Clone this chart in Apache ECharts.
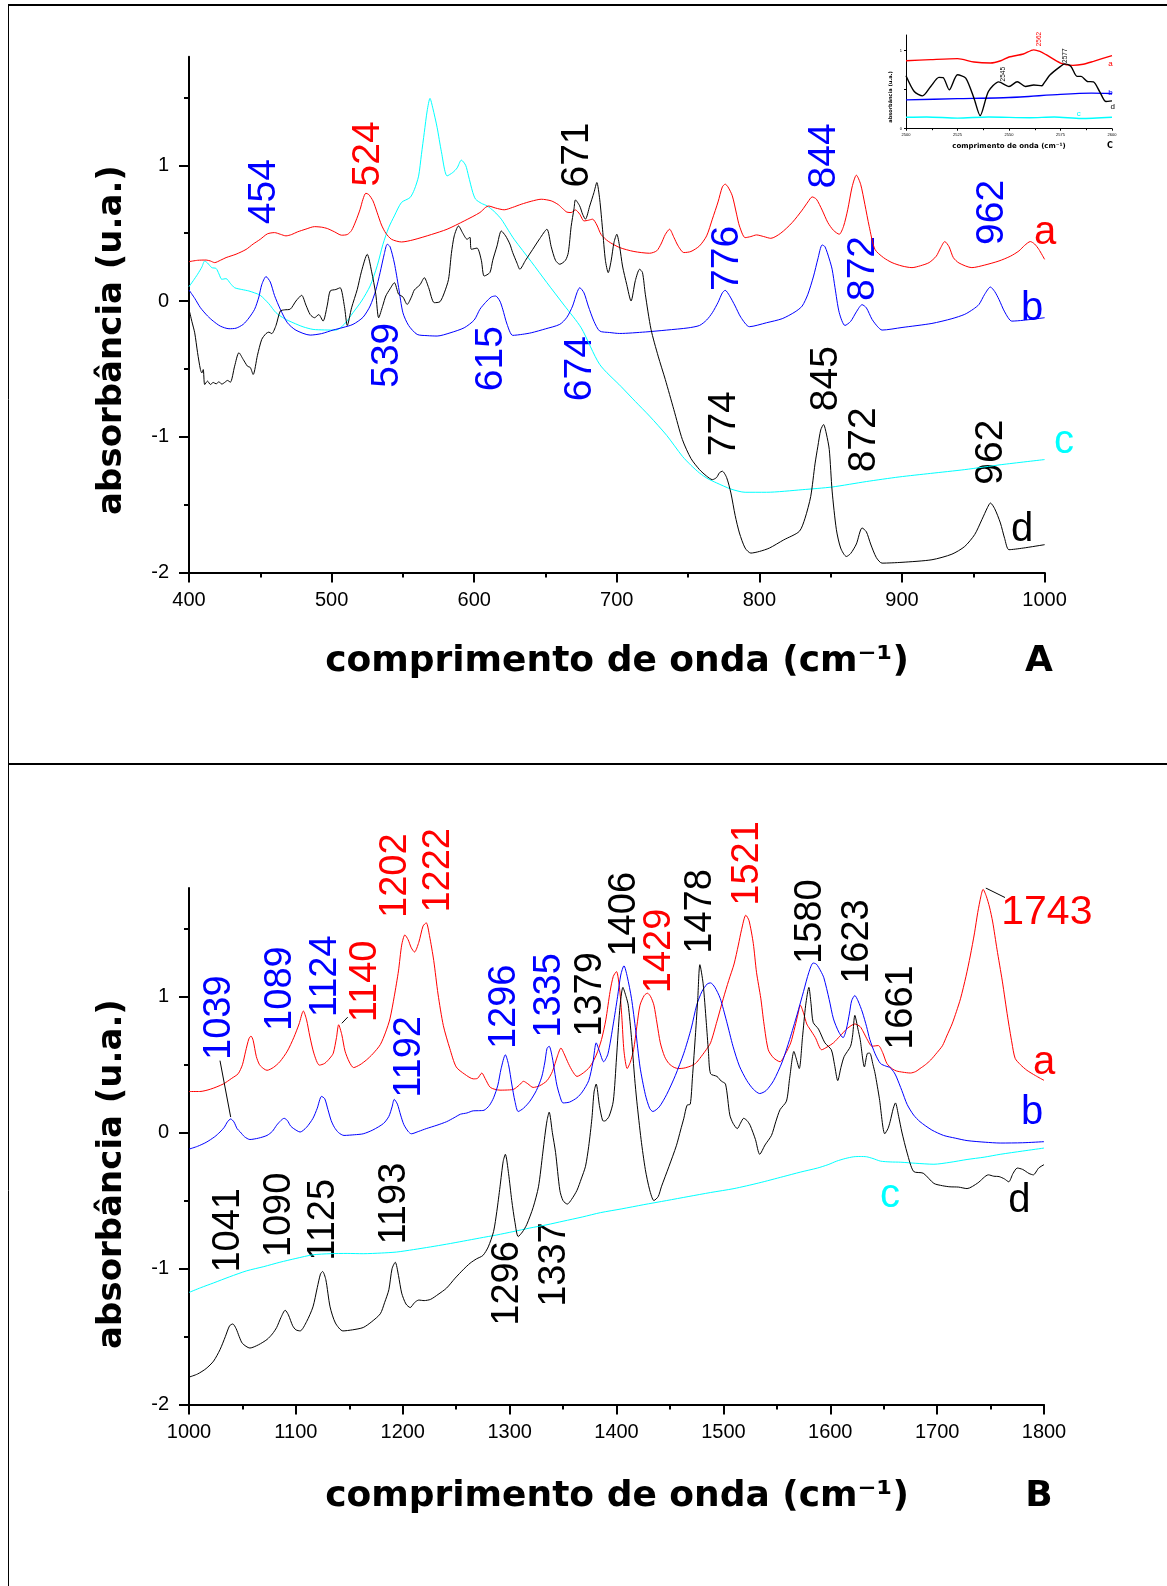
<!DOCTYPE html>
<html>
<head>
<meta charset="utf-8">
<script src="https://cdn.jsdelivr.net/npm/echarts@6/dist/echarts.min.js"></script>
<style>
  html, body { margin: 0; padding: 0; background: #fff; }
  #chart { width: 1167px; height: 1586px; }
</style>
</head>
<body>
<div id="chart"></div>
<script>
// ---------- Spectra, 400–1000 cm-1 (panel A) ----------
const specA_a = [[400,0.29],[406,0.30],[412,0.302],[415,0.295],[418,0.283],[422,0.30],[426,0.32],[433,0.345],[440,0.38],[445,0.42],[450,0.455],[455,0.495],[460,0.504],[464,0.492],[468,0.48],[472,0.49],[476,0.509],[482,0.53],[488,0.548],[493,0.544],[497,0.534],[502,0.51],[507,0.485],[511,0.49],[514,0.52],[517,0.59],[520,0.676],[522,0.75],[524,0.794],[526,0.785],[529,0.738],[532,0.65],[535,0.56],[538,0.50],[542,0.455],[549,0.435],[557,0.45],[570,0.49],[581,0.529],[593,0.59],[604,0.652],[608,0.69],[610,0.70],[615,0.685],[621,0.672],[627,0.69],[633,0.713],[640,0.735],[647,0.75],[654,0.738],[659,0.71],[662,0.681],[665,0.655],[668,0.652],[671,0.671],[674,0.64],[677,0.59],[680,0.595],[683,0.603],[686,0.56],[689,0.49],[694,0.44],[702,0.394],[712,0.365],[723,0.352],[728,0.37],[731,0.42],[734,0.49],[737,0.529],[740,0.47],[743,0.406],[747,0.357],[752,0.365],[758,0.406],[763,0.48],[767,0.603],[771,0.73],[774,0.84],[776,0.861],[778,0.84],[781,0.775],[784,0.64],[786,0.553],[790,0.467],[794,0.475],[798,0.487],[803,0.475],[808,0.462],[815,0.50],[823,0.578],[830,0.67],[834,0.73],[837,0.767],[840,0.75],[844,0.67],[848,0.578],[852,0.52],[856,0.492],[859,0.55],[862,0.676],[865,0.84],[868,0.927],[871,0.86],[874,0.71],[877,0.55],[881,0.381],[887,0.32],[893,0.283],[900,0.258],[907,0.246],[913,0.26],[919,0.283],[924,0.33],[927,0.39],[930,0.438],[933,0.40],[936,0.32],[940,0.28],[949,0.246],[958,0.265],[968,0.295],[976,0.33],[982,0.369],[986,0.41],[990,0.438],[993,0.42],[996,0.38],[1000,0.307]];

const specA_b = [[400,0.081],[404,0.02],[408,-0.049],[413,-0.11],[417,-0.148],[422,-0.185],[428,-0.204],[433,-0.2],[438,-0.172],[442,-0.125],[446,-0.061],[449,0.03],[451,0.12],[454,0.18],[457,0.14],[460,0.04],[464,-0.06],[469,-0.16],[475,-0.215],[485,-0.251],[493,-0.24],[501,-0.214],[508,-0.195],[515,-0.172],[522,-0.12],[527,-0.037],[531,0.08],[534,0.209],[537,0.35],[539,0.418],[541,0.40],[544,0.28],[547,0.10],[550,-0.086],[554,-0.18],[560,-0.246],[567,-0.255],[574,-0.258],[583,-0.235],[593,-0.197],[600,-0.14],[604,-0.061],[608,-0.01],[612,0.03],[615,0.037],[618,0.0],[620,-0.06],[623,-0.17],[627,-0.253],[634,-0.245],[640,-0.234],[650,-0.205],[660,-0.172],[665,-0.12],[669,-0.037],[672,0.06],[674,0.098],[677,0.06],[680,-0.037],[684,-0.15],[688,-0.221],[695,-0.232],[702,-0.239],[720,-0.228],[735,-0.214],[750,-0.198],[758,-0.18],[763,-0.14],[767,-0.086],[771,-0.01],[774,0.06],[776,0.079],[779,0.04],[783,-0.037],[787,-0.12],[793,-0.189],[805,-0.16],[816,-0.13],[825,-0.08],[830,-0.037],[834,0.05],[838,0.184],[841,0.31],[844,0.413],[846,0.40],[849,0.31],[851,0.234],[853,0.1],[856,-0.086],[860,-0.18],[864,-0.15],[868,-0.08],[872,-0.027],[875,-0.05],[879,-0.135],[883,-0.19],[886,-0.214],[900,-0.195],[921,-0.165],[935,-0.13],[944,-0.098],[950,-0.06],[954,-0.025],[958,0.05],[962,0.103],[965,0.07],[968,0.012],[972,-0.08],[977,-0.148],[985,-0.142],[1000,-0.123]];

const specA_c = [[400,0.106],[403,0.15],[406,0.197],[409,0.25],[411,0.295],[413,0.28],[416,0.246],[419,0.24],[421,0.20],[423,0.16],[426,0.165],[429,0.13],[432,0.098],[437,0.085],[442,0.074],[446,0.06],[450,0.042],[456,-0.02],[461,-0.086],[467,-0.13],[473,-0.16],[480,-0.19],[487,-0.209],[495,-0.213],[503,-0.214],[509,-0.17],[515,-0.086],[521,0.0],[527,0.111],[532,0.26],[536,0.418],[540,0.54],[544,0.627],[549,0.726],[555,0.762],[558,0.82],[561,0.92],[563,1.08],[565,1.242],[567,1.40],[569,1.493],[571,1.42],[574,1.279],[577,1.10],[581,0.922],[585,0.947],[588,0.98],[591,1.038],[594,1.0],[596,0.922],[599,0.80],[601,0.75],[605,0.72],[609,0.701],[614,0.66],[619,0.603],[624,0.52],[628,0.455],[640,0.29],[651,0.135],[663,-0.03],[675,-0.197],[688,-0.467],[703,-0.63],[713,-0.74],[723,-0.848],[735,-0.99],[746,-1.144],[752,-1.21],[758,-1.267],[764,-1.31],[770,-1.34],[780,-1.385],[790,-1.409],[805,-1.409],[830,-1.39],[851,-1.37],[875,-1.33],[898,-1.296],[920,-1.27],[944,-1.242],[970,-1.205],[1000,-1.168]];

const specA_d = [[400,-0.061],[402,-0.15],[404,-0.234],[406,-0.38],[408,-0.504],[409,-0.53],[410,-0.505],[411,-0.615],[413,-0.59],[415,-0.615],[417,-0.60],[419,-0.61],[421,-0.595],[423,-0.612],[425,-0.60],[427,-0.585],[429,-0.598],[432,-0.48],[435,-0.381],[438,-0.43],[441,-0.48],[443,-0.49],[445,-0.541],[448,-0.40],[451,-0.283],[454,-0.24],[456,-0.229],[458,-0.24],[461,-0.18],[464,-0.074],[467,-0.065],[471,-0.06],[475,0.0],[479,0.042],[482,-0.03],[485,-0.1],[488,-0.123],[491,-0.10],[494,-0.148],[497,-0.03],[499,0.074],[503,0.085],[506,0.098],[509,-0.04],[511,-0.18],[514,-0.05],[518,0.086],[521,0.22],[525,0.344],[528,0.22],[531,0.05],[533,-0.123],[536,-0.03],[538,0.037],[541,0.09],[544,0.135],[547,0.05],[550,0.03],[553,-0.025],[556,0.03],[558,0.081],[562,0.12],[565,0.172],[568,0.10],[572,-0.012],[576,-0.005],[579,0.06],[582,0.16],[584,0.35],[586,0.48],[589,0.553],[592,0.50],[595,0.455],[597,0.47],[598,0.381],[602,0.39],[605,0.30],[607,0.184],[611,0.21],[613,0.30],[616,0.406],[619,0.516],[622,0.48],[625,0.42],[627,0.357],[630,0.28],[632,0.234],[636,0.30],[641,0.38],[646,0.46],[651,0.529],[654,0.40],[657,0.30],[660,0.271],[664,0.30],[666,0.357],[668,0.55],[670,0.68],[671,0.745],[674,0.70],[676,0.64],[678,0.603],[681,0.70],[684,0.80],[686,0.873],[688,0.75],[690,0.529],[692,0.30],[694,0.209],[696,0.295],[698,0.43],[700,0.492],[702,0.40],[704,0.258],[707,0.12],[710,0.0],[713,0.15],[716,0.234],[718,0.21],[720,0.05],[724,-0.209],[729,-0.406],[734,-0.578],[740,-0.80],[746,-1.021],[752,-1.16],[758,-1.242],[763,-1.29],[767,-1.316],[770,-1.30],[772,-1.265],[774,-1.254],[777,-1.30],[780,-1.414],[783,-1.58],[786,-1.709],[790,-1.82],[794,-1.857],[800,-1.845],[807,-1.820],[817,-1.76],[828,-1.697],[832,-1.60],[836,-1.439],[839,-1.20],[841,-1.07],[843,-0.95],[845,-0.910],[847,-0.98],[849,-1.094],[851,-1.40],[854,-1.685],[857,-1.82],[861,-1.882],[864,-1.86],[868,-1.79],[872,-1.672],[875,-1.70],[878,-1.79],[882,-1.89],[886,-1.931],[900,-1.925],[921,-1.906],[935,-1.865],[944,-1.808],[951,-1.72],[956,-1.611],[960,-1.52],[962,-1.488],[965,-1.53],[969,-1.635],[972,-1.75],[975,-1.832],[985,-1.82],[1000,-1.795]];

// ---------- Spectra, 1000–1800 cm-1 (panel B) ----------
const specB_a = [[1000,0.303],[1010,0.303],[1020,0.32],[1032,0.358],[1040,0.40],[1046,0.434],[1050,0.50],[1053,0.60],[1056,0.69],[1058,0.711],[1060,0.68],[1063,0.56],[1066,0.50],[1070,0.47],[1073,0.459],[1079,0.48],[1085,0.522],[1092,0.60],[1098,0.699],[1103,0.80],[1107,0.895],[1110,0.83],[1113,0.711],[1117,0.58],[1122,0.497],[1127,0.51],[1132,0.55],[1135,0.585],[1138,0.70],[1140,0.794],[1143,0.72],[1146,0.60],[1150,0.52],[1154,0.479],[1160,0.50],[1166,0.535],[1172,0.58],[1179,0.648],[1184,0.74],[1188,0.837],[1192,1.0],[1196,1.19],[1199,1.38],[1202,1.455],[1205,1.42],[1208,1.36],[1211,1.329],[1215,1.40],[1219,1.52],[1222,1.544],[1225,1.45],[1229,1.266],[1233,1.02],[1238,0.787],[1244,0.62],[1250,0.484],[1258,0.43],[1266,0.396],[1270,0.40],[1274,0.439],[1277,0.40],[1282,0.333],[1291,0.313],[1300,0.315],[1304,0.32],[1309,0.35],[1313,0.378],[1317,0.36],[1322,0.333],[1328,0.345],[1335,0.383],[1340,0.45],[1345,0.57],[1348,0.623],[1351,0.58],[1355,0.509],[1359,0.45],[1363,0.414],[1369,0.44],[1375,0.484],[1381,0.57],[1386,0.686],[1390,0.83],[1394,1.039],[1397,1.15],[1400,1.185],[1403,1.05],[1405,0.85],[1407,0.60],[1410,0.472],[1413,0.52],[1416,0.61],[1419,0.78],[1422,0.938],[1426,1.01],[1429,1.026],[1432,1.0],[1435,0.938],[1438,0.80],[1441,0.661],[1445,0.56],[1449,0.509],[1454,0.48],[1458,0.472],[1463,0.475],[1469,0.489],[1474,0.51],[1478,0.547],[1483,0.60],[1488,0.661],[1494,0.82],[1500,0.989],[1505,1.12],[1510,1.241],[1514,1.38],[1517,1.493],[1521,1.60],[1524,1.56],[1528,1.392],[1531,1.18],[1535,0.989],[1538,0.80],[1542,0.610],[1547,0.55],[1553,0.522],[1558,0.58],[1563,0.661],[1567,0.78],[1570,0.88],[1572,0.938],[1575,0.88],[1578,0.80],[1581,0.762],[1586,0.70],[1592,0.610],[1597,0.63],[1603,0.661],[1609,0.71],[1616,0.767],[1623,0.800],[1628,0.78],[1631,0.741],[1635,0.68],[1639,0.636],[1645,0.641],[1649,0.59],[1653,0.509],[1658,0.47],[1662,0.454],[1668,0.445],[1675,0.439],[1680,0.45],[1684,0.472],[1689,0.50],[1694,0.535],[1700,0.59],[1705,0.64],[1709,0.711],[1714,0.80],[1718,0.89],[1722,0.989],[1727,1.15],[1731,1.30],[1735,1.47],[1738,1.62],[1741,1.74],[1743,1.79],[1746,1.74],[1749,1.66],[1752,1.55],[1756,1.35],[1761,1.115],[1766,0.85],[1770,0.66],[1773,0.547],[1778,0.50],[1784,0.459],[1792,0.42],[1800,0.385]];

const specB_b = [[1000,-0.121],[1008,-0.10],[1016,-0.071],[1024,-0.03],[1029,0.005],[1033,0.04],[1036,0.08],[1039,0.101],[1042,0.08],[1045,0.03],[1048,0.005],[1052,-0.03],[1057,-0.050],[1065,-0.04],[1073,-0.020],[1078,0.01],[1082,0.055],[1086,0.09],[1089,0.106],[1092,0.09],[1095,0.05],[1098,0.030],[1104,0.005],[1110,0.04],[1116,0.106],[1120,0.18],[1124,0.267],[1127,0.25],[1130,0.17],[1133,0.09],[1136,0.04],[1140,0.0],[1145,-0.020],[1155,-0.015],[1163,-0.008],[1172,0.02],[1182,0.068],[1187,0.12],[1190,0.19],[1192,0.245],[1195,0.21],[1198,0.13],[1201,0.06],[1205,0.01],[1208,-0.008],[1215,0.01],[1222,0.030],[1232,0.055],[1241,0.081],[1248,0.11],[1254,0.136],[1260,0.145],[1266,0.161],[1271,0.162],[1276,0.165],[1281,0.2],[1285,0.257],[1289,0.35],[1292,0.47],[1296,0.573],[1299,0.50],[1302,0.358],[1305,0.23],[1308,0.156],[1313,0.18],[1319,0.232],[1325,0.31],[1330,0.409],[1333,0.52],[1335,0.62],[1337,0.636],[1340,0.55],[1344,0.358],[1347,0.27],[1350,0.219],[1356,0.225],[1363,0.257],[1368,0.30],[1374,0.383],[1378,0.52],[1381,0.661],[1384,0.60],[1388,0.522],[1392,0.58],[1397,0.80],[1401,1.0],[1404,1.16],[1407,1.228],[1410,1.15],[1414,0.989],[1418,0.75],[1422,0.484],[1427,0.28],[1431,0.18],[1434,0.156],[1440,0.19],[1447,0.282],[1455,0.42],[1463,0.585],[1470,0.77],[1475,0.938],[1480,1.04],[1485,1.095],[1488,1.102],[1492,1.07],[1497,0.989],[1503,0.82],[1509,0.636],[1515,0.49],[1522,0.383],[1528,0.32],[1534,0.288],[1540,0.31],[1547,0.383],[1555,0.52],[1562,0.686],[1569,0.87],[1575,1.039],[1580,1.18],[1584,1.248],[1587,1.24],[1591,1.19],[1594,1.14],[1599,0.98],[1603,0.837],[1608,0.74],[1612,0.699],[1615,0.76],[1618,0.88],[1620,0.97],[1623,1.009],[1626,0.97],[1630,0.888],[1634,0.78],[1637,0.686],[1642,0.58],[1647,0.509],[1652,0.49],[1656,0.479],[1660,0.44],[1662,0.409],[1667,0.31],[1672,0.207],[1678,0.13],[1684,0.081],[1695,0.02],[1706,-0.020],[1717,-0.04],[1728,-0.058],[1745,-0.07],[1759,-0.076],[1780,-0.074],[1800,-0.066]];

const specB_c = [[1000,-1.175],[1011,-1.14],[1023,-1.105],[1038,-1.06],[1054,-1.016],[1070,-0.985],[1085,-0.953],[1100,-0.925],[1116,-0.898],[1132,-0.89],[1148,-0.888],[1163,-0.89],[1180,-0.885],[1194,-0.878],[1210,-0.86],[1226,-0.840],[1241,-0.82],[1257,-0.797],[1272,-0.775],[1288,-0.752],[1303,-0.728],[1319,-0.701],[1335,-0.677],[1350,-0.651],[1368,-0.62],[1385,-0.588],[1405,-0.56],[1425,-0.53],[1447,-0.499],[1467,-0.47],[1488,-0.44],[1510,-0.411],[1533,-0.37],[1556,-0.323],[1572,-0.29],[1588,-0.26],[1598,-0.235],[1606,-0.209],[1614,-0.19],[1622,-0.177],[1628,-0.175],[1634,-0.177],[1640,-0.19],[1647,-0.209],[1656,-0.215],[1666,-0.217],[1680,-0.225],[1697,-0.232],[1712,-0.218],[1728,-0.197],[1744,-0.18],[1759,-0.159],[1780,-0.135],[1800,-0.113]];

const specB_d = [[1000,-1.798],[1008,-1.775],[1016,-1.735],[1023,-1.68],[1029,-1.596],[1034,-1.50],[1038,-1.42],[1041,-1.407],[1044,-1.44],[1047,-1.50],[1050,-1.55],[1057,-1.584],[1065,-1.56],[1073,-1.521],[1078,-1.48],[1082,-1.433],[1086,-1.36],[1090,-1.306],[1093,-1.34],[1097,-1.420],[1100,-1.45],[1104,-1.458],[1110,-1.39],[1116,-1.281],[1120,-1.14],[1123,-1.04],[1125,-1.021],[1128,-1.08],[1132,-1.281],[1137,-1.40],[1144,-1.458],[1153,-1.45],[1163,-1.433],[1171,-1.39],[1179,-1.332],[1183,-1.25],[1187,-1.155],[1190,-1.0],[1193,-0.953],[1196,-1.05],[1199,-1.180],[1203,-1.26],[1207,-1.286],[1211,-1.25],[1215,-1.231],[1220,-1.235],[1226,-1.226],[1233,-1.19],[1241,-1.143],[1249,-1.07],[1257,-1.004],[1263,-0.96],[1269,-0.928],[1275,-0.903],[1280,-0.84],[1285,-0.726],[1288,-0.58],[1291,-0.398],[1294,-0.21],[1296,-0.159],[1299,-0.30],[1302,-0.499],[1305,-0.66],[1308,-0.764],[1312,-0.73],[1316,-0.676],[1322,-0.55],[1327,-0.398],[1331,-0.15],[1333,-0.020],[1335,0.09],[1337,0.151],[1340,0.0],[1343,-0.146],[1347,-0.424],[1350,-0.50],[1354,-0.525],[1358,-0.49],[1363,-0.424],[1367,-0.34],[1371,-0.247],[1374,-0.10],[1377,0.106],[1379,0.30],[1381,0.358],[1384,0.20],[1387,0.09],[1389,0.086],[1393,0.12],[1397,0.232],[1400,0.55],[1403,0.900],[1406,1.069],[1409,1.0],[1411,0.938],[1414,0.70],[1417,0.40],[1419,0.232],[1423,-0.05],[1427,-0.272],[1431,-0.42],[1435,-0.499],[1439,-0.47],[1442,-0.398],[1449,-0.25],[1456,-0.096],[1460,0.02],[1463,0.106],[1466,0.202],[1469,0.21],[1471,0.40],[1474,0.736],[1476,0.98],[1478,1.236],[1481,1.10],[1484,0.812],[1486,0.60],[1488,0.434],[1494,0.414],[1498,0.38],[1502,0.358],[1506,0.131],[1509,0.07],[1513,0.030],[1516,0.07],[1519,0.106],[1522,0.09],[1525,0.055],[1530,-0.05],[1534,-0.159],[1539,-0.09],[1545,-0.020],[1549,0.08],[1553,0.169],[1559,0.232],[1562,0.40],[1566,0.598],[1568,0.55],[1571,0.472],[1574,0.70],[1577,0.938],[1580,1.069],[1582,0.95],[1584,0.812],[1589,0.762],[1595,0.661],[1601,0.610],[1604,0.50],[1607,0.383],[1610,0.48],[1613,0.560],[1619,0.636],[1621,0.72],[1623,0.863],[1626,0.76],[1628,0.686],[1632,0.484],[1635,0.585],[1637,0.585],[1640,0.50],[1642,0.434],[1646,0.25],[1651,-0.008],[1654,0.03],[1656,0.081],[1659,0.18],[1661,0.219],[1664,0.12],[1667,0.005],[1672,-0.15],[1678,-0.285],[1687,-0.298],[1697,-0.373],[1705,-0.39],[1712,-0.398],[1720,-0.40],[1728,-0.411],[1738,-0.37],[1748,-0.310],[1753,-0.32],[1758,-0.323],[1763,-0.34],[1767,-0.361],[1771,-0.30],[1775,-0.260],[1780,-0.27],[1786,-0.30],[1790,-0.310],[1795,-0.26],[1800,-0.235]];

// ---------- Inset, 2500–2600 cm-1 (panel C) ----------
const specC_a = [[2500,0.871],[2512,0.885],[2525,0.897],[2533,0.854],[2541,0.841],[2546,0.87],[2550,0.918],[2557,0.957],[2562,1.01],[2565,0.99],[2568,0.948],[2575,0.841],[2581,0.811],[2586,0.825],[2591,0.863],[2600,0.936]];
const specC_b = [[2500,0.369],[2525,0.385],[2550,0.40],[2575,0.44],[2590,0.455],[2600,0.45]];
const specC_c = [[2500,0.146],[2510,0.15],[2525,0.135],[2540,0.15],[2560,0.14],[2572,0.15],[2585,0.13],[2600,0.146]];
const specC_d = [[2500,0.678],[2504,0.476],[2508,0.421],[2512,0.541],[2516,0.657],[2518,0.655],[2521,0.498],[2525,0.691],[2529,0.648],[2533,0.39],[2536,0.167],[2540,0.476],[2545,0.60],[2550,0.541],[2554,0.601],[2558,0.541],[2562,0.56],[2566,0.55],[2567,0.584],[2570,0.691],[2575,0.798],[2577,0.83],[2580,0.80],[2583,0.67],[2585,0.67],[2588,0.605],[2591,0.60],[2594,0.476],[2597,0.348],[2600,0.356]];

// ---------- Band assignments: [wavenumber, absorbance anchor, text] ----------
const bandsA_b = [[452.6,0.566,'454'],[538.9,-0.639,'539'],[612,-0.664,'615'],[674.7,-0.738,'674'],[777.4,0.074,'776'],[845.8,0.829,'844'],[873.1,0.0,'872'],[963.4,0.413,'962']];
const bandsA_a = [[526,0.844,'524']];
const bandsA_d = [[672.4,0.836,'671'],[775.6,-1.144,'774'],[846.9,-0.812,'845'],[873.3,-1.262,'872'],[962.7,-1.353,'962']];

const bandsB_b = [[1029,0.535,'1039'],[1085.2,0.749,'1089'],[1127.3,0.85,'1124'],[1206.2,0.257,'1192'],[1294.8,0.615,'1296'],[1337.3,0.699,'1335']];
const bandsB_a = [[1164.7,0.812,'1140'],[1192.8,1.58,'1202'],[1233.4,1.619,'1222'],[1440.2,1.026,'1429'],[1522.8,1.67,'1521']];
const bandsB_d = [[1036.8,-1.029,'1041'],[1084.6,-0.916,'1090'],[1125.7,-0.941,'1125'],[1192.5,-0.822,'1193'],[1298,-1.42,'1296'],[1341.6,-1.281,'1337'],[1376,0.706,'1379'],[1407.2,1.296,'1406'],[1478.9,1.317,'1478'],[1581.9,1.241,'1580'],[1625.6,1.095,'1623'],[1667.1,0.61,'1661']];
const bandsB_aFlat = [[1760,1.617,'1743']];
const leadersB = [[[1029,0.53],[1039,0.115]],[[1143,0.805],[1148.5,0.85]],[[1745.5,1.80],[1763.5,1.73]]];

const bandsC_a = [[2564.5,1.055,'2562']];
const bandsC_d = [[2547,0.605,'2545'],[2577.4,0.842,'2577']];

// ---------- Curve tags ----------
const tagsA = [[1000.3,0.505,'a'],[991.3,-0.055,'b'],[1013.6,-1.04,'c'],[984.2,-1.685,'d']];
const tagsB = [[1800.2,0.51,'a'],[1789,0.145,'b'],[1656,-0.465,'c'],[1777,-0.505,'d']];
const tagsC = [[2599.2,0.829,'a'],[2599.2,0.463,'b'],[2583.9,0.189,'c'],[2600.3,0.275,'d']];

const yMajor = [-2, -1, 0, 1];
const yMinor = [-1.5, -0.5, 0.5, 1.5];

const RED = '#ff0000', BLUE = '#0000ff', CYAN = '#00ffff', BLACK = '#000000';
const TAG_COLORS = [RED, BLUE, CYAN, BLACK];
const SANS = '"Liberation Sans", Arial, sans-serif';
const plain = v => String(v);

function curve(data, color, xi, yi, width) {
  return {
    type: 'line', data: data, xAxisIndex: xi, yAxisIndex: yi,
    symbol: 'none', smooth: 0.25, silent: true, animation: false,
    lineStyle: { color: color, width: width }, itemStyle: { color: color }
  };
}

function textMarks(rows, colors, size, xi, yi, rotated, align) {
  return {
    type: 'custom', xAxisIndex: xi, yAxisIndex: yi, silent: true, animation: false, clip: false,
    data: rows.map(r => [r[0], r[1]]),
    renderItem: function (params, api) {
      const p = api.coord([api.value(0), api.value(1)]);
      const r = rows[params.dataIndex];
      const color = Array.isArray(colors) ? colors[params.dataIndex] : colors;
      return {
        type: 'text', x: p[0], y: p[1], rotation: rotated ? Math.PI / 2 : 0,
        style: {
          text: r[2], fill: color, font: size + 'px ' + SANS,
          align: rotated ? 'left' : (align || 'center'), verticalAlign: 'middle'
        }
      };
    }
  };
}

function leaders(segs, xi, yi) {
  return segs.map(s => ({
    type: 'line', data: s, xAxisIndex: xi, yAxisIndex: yi, symbol: 'none',
    silent: true, animation: false, lineStyle: { color: BLACK, width: 1 }
  }));
}

function mainX(gi, min, max) {
  return {
    type: 'value', gridIndex: gi, min: min, max: max, interval: 100,
    axisLine: { onZero: false, lineStyle: { color: BLACK, width: 2 } },
    axisTick: { length: 10, lineStyle: { color: BLACK, width: 2 } },
    minorTick: { show: true, splitNumber: 2, length: 5, lineStyle: { color: BLACK, width: 2 } },
    axisLabel: { color: BLACK, fontSize: 20, fontFamily: SANS, margin: 18, formatter: plain },
    splitLine: { show: false }
  };
}
function mainY(gi) {
  return {
    type: 'value', gridIndex: gi, min: -2, max: 1.8,
    axisLine: { show: true, onZero: false, lineStyle: { color: BLACK, width: 2 } },
    axisTick: { show: true, length: 10, customValues: yMajor, lineStyle: { color: BLACK, width: 2 } },
    axisLabel: { color: BLACK, fontSize: 20, fontFamily: SANS, margin: 20, customValues: yMajor, formatter: plain },
    splitLine: { show: false }
  };
}
function minorY(gi) {
  return {
    type: 'value', gridIndex: gi, min: -2, max: 1.8, position: 'left',
    axisLine: { show: false, onZero: false },
    axisTick: { show: true, length: 5, customValues: yMinor, lineStyle: { color: BLACK, width: 2 } },
    axisLabel: { show: false, customValues: yMinor },
    splitLine: { show: false }
  };
}

const chart = echarts.init(document.getElementById('chart'), null, { renderer: 'canvas', width: 1167, height: 1586 });

const xTitle = 'comprimento de onda (cm\u207B\u00B9)';
const yTitle = 'absorbância (u.a.)';
const BOLD = '"DejaVu Sans", sans-serif';

chart.setOption({
  animation: false,
  backgroundColor: '#ffffff',
  grid: [
    { left: 189, top: 56.7, width: 855.6, height: 515.8 },
    { left: 189, top: 888, width: 855, height: 516.6 },
    { left: 906, top: 35, width: 206, height: 93.7 }
  ],
  xAxis: [
    mainX(0, 400, 1000),
    mainX(1, 1000, 1800),
    {
      type: 'value', gridIndex: 2, min: 2500, max: 2600, interval: 25,
      axisLine: { onZero: false, lineStyle: { color: BLACK, width: 1 } },
      axisTick: { length: 2, lineStyle: { color: BLACK, width: 1 } },
      minorTick: { show: true, splitNumber: 2, length: 1.5, lineStyle: { color: BLACK, width: 1 } },
      axisLabel: { color: BLACK, fontSize: 4, fontFamily: SANS, margin: 4, formatter: plain },
      splitLine: { show: false }
    }
  ],
  yAxis: [
    mainY(0), minorY(0), mainY(1), minorY(1),
    {
      type: 'value', gridIndex: 2, min: 0, max: 1.2,
      axisLine: { show: true, onZero: false, lineStyle: { color: BLACK, width: 1 } },
      axisTick: { show: true, length: 2, customValues: [0, 0.5, 1], lineStyle: { color: BLACK, width: 1 } },
      axisLabel: { color: BLACK, fontSize: 4, fontFamily: SANS, margin: 4, customValues: [0, 1], formatter: plain },
      splitLine: { show: false }
    }
  ],
  series: [
    curve(specA_c, CYAN, 0, 0, 1),
    curve(specA_a, RED, 0, 0, 1),
    curve(specA_b, BLUE, 0, 0, 1),
    curve(specA_d, BLACK, 0, 0, 1),
    curve(specB_c, CYAN, 1, 2, 1),
    curve(specB_a, RED, 1, 2, 1),
    curve(specB_b, BLUE, 1, 2, 1),
    curve(specB_d, BLACK, 1, 2, 1),
    curve(specC_c, CYAN, 2, 4, 1.4),
    curve(specC_a, RED, 2, 4, 1.4),
    curve(specC_b, BLUE, 2, 4, 1.4),
    curve(specC_d, BLACK, 2, 4, 1.4),
    ...leaders(leadersB, 1, 2),
    textMarks(bandsA_b, BLUE, 39, 0, 0, true),
    textMarks(bandsA_a, RED, 39, 0, 0, true),
    textMarks(bandsA_d, BLACK, 39, 0, 0, true),
    textMarks(tagsA, TAG_COLORS, 40, 0, 0, false),
    textMarks(bandsB_b, BLUE, 38, 1, 2, true),
    textMarks(bandsB_a, RED, 38, 1, 2, true),
    textMarks(bandsB_d, BLACK, 38, 1, 2, true),
    textMarks(bandsB_aFlat, RED, 41, 1, 2, false, 'left'),
    textMarks(tagsB, TAG_COLORS, 40, 1, 2, false),
    textMarks(bandsC_a, RED, 6.5, 2, 4, true),
    textMarks(bandsC_d, BLACK, 6.5, 2, 4, true),
    textMarks(tagsC, TAG_COLORS, 8, 2, 4, false)
  ],
  graphic: [
    // page frame
    { type: 'line', shape: { x1: 8, y1: 5, x2: 1167, y2: 5 }, style: { stroke: BLACK, lineWidth: 2 }, silent: true },
    { type: 'line', shape: { x1: 8.5, y1: 4, x2: 8.5, y2: 1586 }, style: { stroke: BLACK, lineWidth: 1 }, silent: true },
    { type: 'line', shape: { x1: 8, y1: 764, x2: 1167, y2: 764 }, style: { stroke: BLACK, lineWidth: 2 }, silent: true },
    // axis titles, panel A
    { type: 'text', x: 112, y: 340, rotation: Math.PI / 2, silent: true,
      style: { text: yTitle, font: 'bold 34px ' + BOLD, fill: BLACK, align: 'center', verticalAlign: 'middle' } },
    { type: 'text', x: 617, y: 662, silent: true,
      style: { text: xTitle, font: 'bold 36px ' + BOLD, fill: BLACK, align: 'center', verticalAlign: 'middle' } },
    { type: 'text', x: 1039, y: 662, silent: true,
      style: { text: 'A', font: 'bold 36px ' + BOLD, fill: BLACK, align: 'center', verticalAlign: 'middle' } },
    // axis titles, panel B
    { type: 'text', x: 112, y: 1174, rotation: Math.PI / 2, silent: true,
      style: { text: yTitle, font: 'bold 34px ' + BOLD, fill: BLACK, align: 'center', verticalAlign: 'middle' } },
    { type: 'text', x: 617, y: 1497, silent: true,
      style: { text: xTitle, font: 'bold 36px ' + BOLD, fill: BLACK, align: 'center', verticalAlign: 'middle' } },
    { type: 'text', x: 1039, y: 1497, silent: true,
      style: { text: 'B', font: 'bold 36px ' + BOLD, fill: BLACK, align: 'center', verticalAlign: 'middle' } },
    // inset titles
    { type: 'text', x: 891, y: 97, rotation: Math.PI / 2, silent: true,
      style: { text: yTitle, font: 'bold 5px ' + BOLD, fill: BLACK, align: 'center', verticalAlign: 'middle' } },
    { type: 'text', x: 1009, y: 146, silent: true,
      style: { text: xTitle, font: 'bold 7px ' + BOLD, fill: BLACK, align: 'center', verticalAlign: 'middle' } },
    { type: 'text', x: 1110, y: 146, silent: true,
      style: { text: 'C', font: 'bold 8px ' + BOLD, fill: BLACK, align: 'center', verticalAlign: 'middle' } }
  ]
});
</script>
</body>
</html>
